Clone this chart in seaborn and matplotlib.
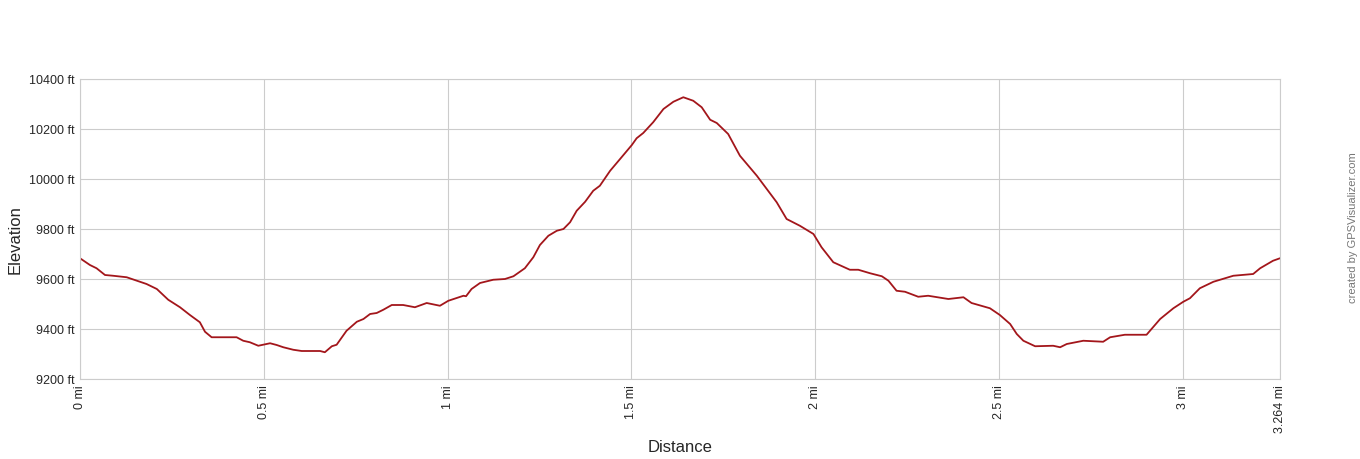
import numpy as np
import pandas as pd
import matplotlib
matplotlib.use('Agg')
import matplotlib.pyplot as plt
import seaborn as sns

# профиль высоты трека (мили / футы)
dist_mi = [0.000, 0.027, 0.045, 0.068, 0.090, 0.127, 0.163, 0.181, 0.209, 0.240,
           0.272, 0.299, 0.326, 0.340, 0.358, 0.426, 0.444, 0.462, 0.485, 0.517,
           0.535, 0.553, 0.580, 0.603, 0.653, 0.666, 0.685, 0.698, 0.725, 0.753,
           0.771, 0.789, 0.807, 0.825, 0.848, 0.879, 0.911, 0.943, 0.979, 1.002,
           1.043, 1.050, 1.065, 1.088, 1.124, 1.156, 1.179, 1.210, 1.233, 1.251,
           1.274, 1.297, 1.315, 1.333, 1.351, 1.374, 1.396, 1.414, 1.442, 1.469,
           1.501, 1.514, 1.532, 1.559, 1.587, 1.614, 1.641, 1.668, 1.691, 1.714,
           1.732, 1.763, 1.795, 1.841, 1.895, 1.922, 1.958, 1.995, 2.017, 2.049,
           2.094, 2.117, 2.149, 2.181, 2.199, 2.221, 2.244, 2.280, 2.307, 2.362,
           2.403, 2.425, 2.475, 2.502, 2.530, 2.548, 2.566, 2.598, 2.647, 2.666,
           2.684, 2.729, 2.783, 2.802, 2.842, 2.901, 2.938, 2.974, 3.001, 3.019,
           3.046, 3.083, 3.137, 3.191, 3.210, 3.245, 3.264]
elev_ft = [9683, 9656, 9643, 9616, 9613, 9607, 9589, 9580, 9560, 9517,
           9487, 9456, 9427, 9389, 9367, 9367, 9353, 9347, 9333, 9343,
           9336, 9327, 9317, 9312, 9312, 9307, 9331, 9337, 9393, 9429,
           9440, 9460, 9464, 9477, 9496, 9496, 9487, 9504, 9493, 9513,
           9533, 9531, 9560, 9584, 9597, 9600, 9611, 9643, 9687, 9736,
           9773, 9793, 9800, 9827, 9873, 9909, 9953, 9973, 10033, 10080,
           10136, 10163, 10184, 10227, 10280, 10309, 10327, 10313, 10287, 10237,
           10224, 10180, 10093, 10013, 9907, 9840, 9813, 9780, 9727, 9667,
           9637, 9637, 9623, 9611, 9593, 9553, 9549, 9529, 9533, 9520,
           9527, 9504, 9483, 9456, 9420, 9380, 9353, 9331, 9333, 9327,
           9340, 9353, 9349, 9367, 9377, 9377, 9440, 9483, 9509, 9523,
           9563, 9589, 9613, 9620, 9643, 9673, 9683]

x_ticks = [0, 0.5, 1, 1.5, 2, 2.5, 3, 3.264]
x_labels = ['0 mi', '0.5 mi', '1 mi', '1.5 mi', '2 mi', '2.5 mi', '3 mi', '3.264 mi']
y_ticks = [9200, 9400, 9600, 9800, 10000, 10200, 10400]
y_labels = [f'{v} ft' for v in y_ticks]

df = pd.DataFrame({'Distance': dist_mi, 'Elevation': elev_ft})

sns.set_style('white')
plt.rcParams['font.family'] = ['Liberation Sans', 'DejaVu Sans']

fig = plt.figure(figsize=(13.6, 4.6), dpi=100)
ax = fig.add_axes([80/1360, 80/460, 1200/1360, 300/460])

sns.lineplot(data=df, x='Distance', y='Elevation', ax=ax, color='#a3161b', linewidth=1.3)

ax.set_xlim(0, 3.264)
ax.set_ylim(9200, 10400)
ax.set_xticks(x_ticks)
ax.set_xticklabels(x_labels, rotation=90, fontsize=9)
ax.set_yticks(y_ticks)
ax.set_yticklabels(y_labels, fontsize=9)
ax.grid(True, color='#cccccc', linewidth=0.8)
ax.tick_params(length=0, pad=4)
for s in ax.spines.values():
    s.set_color('#cccccc')
    s.set_linewidth(0.8)

ax.set_xlabel('')
ax.set_ylabel('')
fig.text(680/1360, 1 - 448/460, 'Distance', ha='center', va='center', fontsize=12)
fig.text(15/1360, 1 - 240/460, 'Elevation', ha='center', va='center', rotation=90, fontsize=12)
fig.text(1353/1360, 1 - 228/460, 'created by GPSVisualizer.com', ha='center', va='center',
         rotation=90, fontsize=8, color='#777777')

fig.savefig('out.png', dpi=100, facecolor='white')
